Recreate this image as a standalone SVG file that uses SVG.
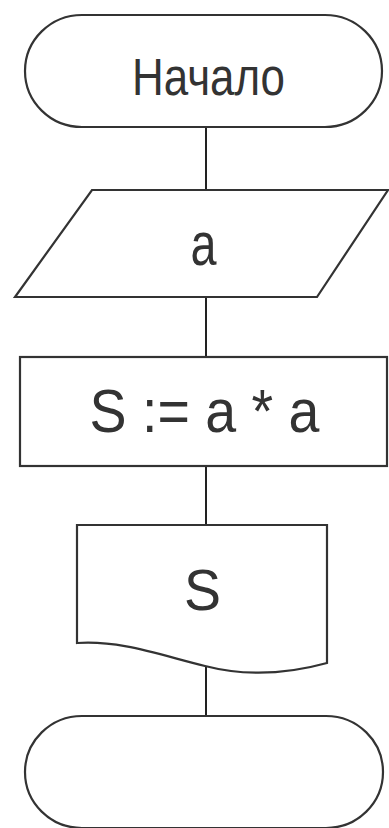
<svg xmlns="http://www.w3.org/2000/svg" width="389" height="828" viewBox="0 0 389 828">
<style>
.shape{fill:#fff;stroke:#333;stroke-width:2.2}
.conn{stroke:#222;stroke-width:2;fill:none}
.lbl{font-family:"Liberation Sans",Arial,sans-serif;fill:#333;text-anchor:middle}
</style>
<rect width="389" height="828" fill="#fff"/>
<g id="connectors">
<line class="conn" x1="206" y1="127" x2="206" y2="190"/>
<line class="conn" x1="206" y1="297" x2="206" y2="357"/>
<line class="conn" x1="206" y1="466" x2="206" y2="525"/>
<line class="conn" x1="206" y1="666" x2="206" y2="716"/>
</g>
<g id="start">
<rect class="shape" x="25" y="15" width="357" height="112" rx="57" ry="56"/>
<text class="lbl" x="208.5" y="95" font-size="51" textLength="153" lengthAdjust="spacingAndGlyphs">Начало</text>
</g>
<g id="input">
<polygon class="shape" points="92,190 388,190 317,297 15,297"/>
<text class="lbl" x="203.5" y="265" font-size="62" textLength="26" lengthAdjust="spacingAndGlyphs">a</text>
</g>
<g id="process">
<rect class="shape" x="20" y="357" width="367" height="109"/>
<text class="lbl" x="204.5" y="432" font-size="61" textLength="230" lengthAdjust="spacingAndGlyphs">S := a * a</text>
</g>
<g id="output">
<path class="shape" d="M77,525 H327 V663 C280,676 240,675 205,666 C160,655 120,640 77,643 Z"/>
<text class="lbl" x="202.5" y="610" font-size="58" textLength="37" lengthAdjust="spacingAndGlyphs">S</text>
</g>
<g id="end">
<rect class="shape" x="25" y="716" width="358" height="112" rx="57" ry="56"/>
</g>
</svg>
